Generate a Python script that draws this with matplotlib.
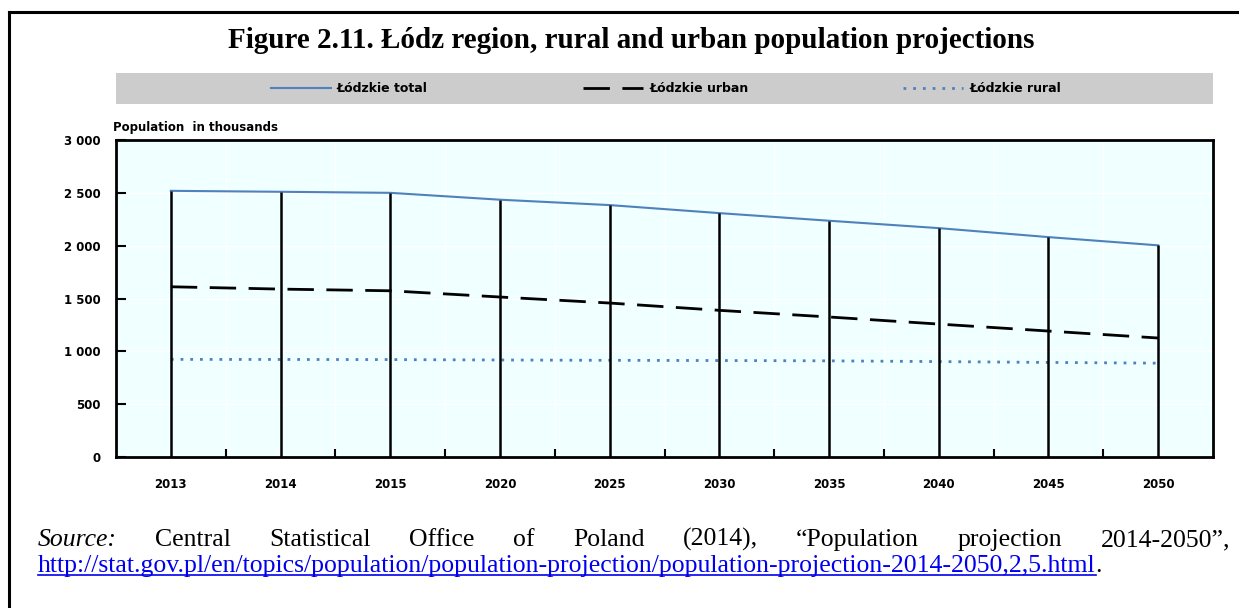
import numpy as np
import matplotlib
matplotlib.use("Agg")
import matplotlib.pyplot as plt
from matplotlib.lines import Line2D
from matplotlib.patches import Rectangle

# Łódzkie voivodeship population, thousands
years = ["2013", "2014", "2015", "2020", "2025", "2030", "2035", "2040", "2045", "2050"]
total = [2519, 2510, 2500, 2435, 2384, 2308, 2236, 2166, 2081, 2003]
urban = [1611, 1589, 1573, 1514, 1457, 1388, 1325, 1258, 1192, 1126]
rural = [924, 923, 922, 918, 915, 913, 910, 903, 895, 888]
y_ticks = [0, 500, 1000, 1500, 2000, 2500, 3000]

W, H = 1239, 608
fig = plt.figure(figsize=(W / 100, H / 100), dpi=100)
fig.patch.set_facecolor("white")

def fx(px):
    return px / W

def fy(py):
    return 1 - py / H

ax = fig.add_axes([fx(116), fy(457), fx(1213) - fx(116), fy(140) - fy(457)])
ax.set_facecolor("#F0FFFF")

x = np.arange(len(years))
blue = "#4F81BD"
ax.plot(x, total, color=blue, lw=1.5, label="Łódzkie total", zorder=3)
ax.plot(x, urban, color="black", lw=2, ls=(0, (9.5, 4.5)), label="Łódzkie urban", zorder=3)
ax.plot(x, rural, color=blue, lw=2, ls=(0, (1, 2.5)), label="Łódzkie rural", zorder=3)
ax.vlines(x, 0, total, color="black", lw=1.8, zorder=4)

ax.set_xlim(-0.5, len(years) - 0.5)
ax.set_ylim(0, 3000)

small = dict(family="DejaVu Sans", size=8.5, weight="bold")
ax.set_yticks(y_ticks)
ax.set_yticklabels([f"{v:,}".replace(",", " ") for v in y_ticks], **small)
ax.set_xticks(x)
ax.set_xticklabels(years, **small)
ax.set_xticks(np.arange(0.5, len(years) - 1, 1), minor=True)

ax.tick_params(axis="x", which="major", length=0, pad=15)
ax.tick_params(axis="x", which="minor", direction="in", length=6, width=1.5)
ax.tick_params(axis="y", direction="in", length=7, width=1.5, pad=11)
ax.grid(axis="y", which="major", color="white", lw=1)
ax.grid(axis="x", which="minor", color="white", lw=1)
ax.set_axisbelow(True)
for s in ax.spines.values():
    s.set_linewidth(2)

ax.text(-0.003, 1.02, "Population  in thousands", transform=ax.transAxes,
        ha="left", va="bottom", **small)

# grey legend band
fig.add_artist(Rectangle((fx(116), fy(104)), fx(1213) - fx(116), fy(73) - fy(104),
                         transform=fig.transFigure, facecolor="#CCCCCC", edgecolor="none"))
fig.legend(loc="center", bbox_to_anchor=(fx(666), fy(88.5)), ncol=3, frameon=False,
           handlelength=4.8, handletextpad=0.5, columnspacing=12.4,
           prop=dict(family="DejaVu Sans", size=9, weight="bold"))

# page frame
fig.add_artist(Line2D([fx(9), fx(9)], [0, fy(12)], color="black", lw=2.2,
                      transform=fig.transFigure))
fig.add_artist(Line2D([fx(9), 1], [fy(12), fy(12)], color="black", lw=2.2,
                      transform=fig.transFigure))

fig.text(fx(631), fy(40), "Figure 2.11. Łódz region, rural and urban population projections",
         ha="center", va="center", family="Liberation Serif", weight="bold", size=21)

# justified source line
renderer = fig.canvas.get_renderer()
src_font = dict(family="Liberation Serif", size=18.5)
words = ["Central", "Statistical", "Office", "of", "Poland", "(2014),",
         "\u201cPopulation", "projection", "2014-2050\u201d,"]
left, right, y1 = 38, 1230, 546
first = fig.text(fx(left), fy(y1), "Source:", ha="left", va="baseline", style="italic", **src_font)
items = [first] + [fig.text(0, fy(y1), w, ha="left", va="baseline", **src_font) for w in words]
widths = [t.get_window_extent(renderer).width for t in items]
gap = (right - left - sum(widths)) / (len(items) - 1)
pos = left
for t, w in zip(items, widths):
    t.set_x(fx(pos))
    pos += w + gap

url = "http://stat.gov.pl/en/topics/population/population-projection/population-projection-2014-2050,2,5.html"
y2 = 572
ut = fig.text(fx(left), fy(y2), url, ha="left", va="baseline", color="#0000EE", **src_font)
bb = ut.get_window_extent(renderer)
fig.text(fx(left + bb.width), fy(y2), ".", ha="left", va="baseline", **src_font)
fig.add_artist(Line2D([fx(left), fx(left + bb.width)], [fy(y2 + 3), fy(y2 + 3)],
                      color="#0000EE", lw=1.2, transform=fig.transFigure))

fig.savefig("out.png", dpi=100)
